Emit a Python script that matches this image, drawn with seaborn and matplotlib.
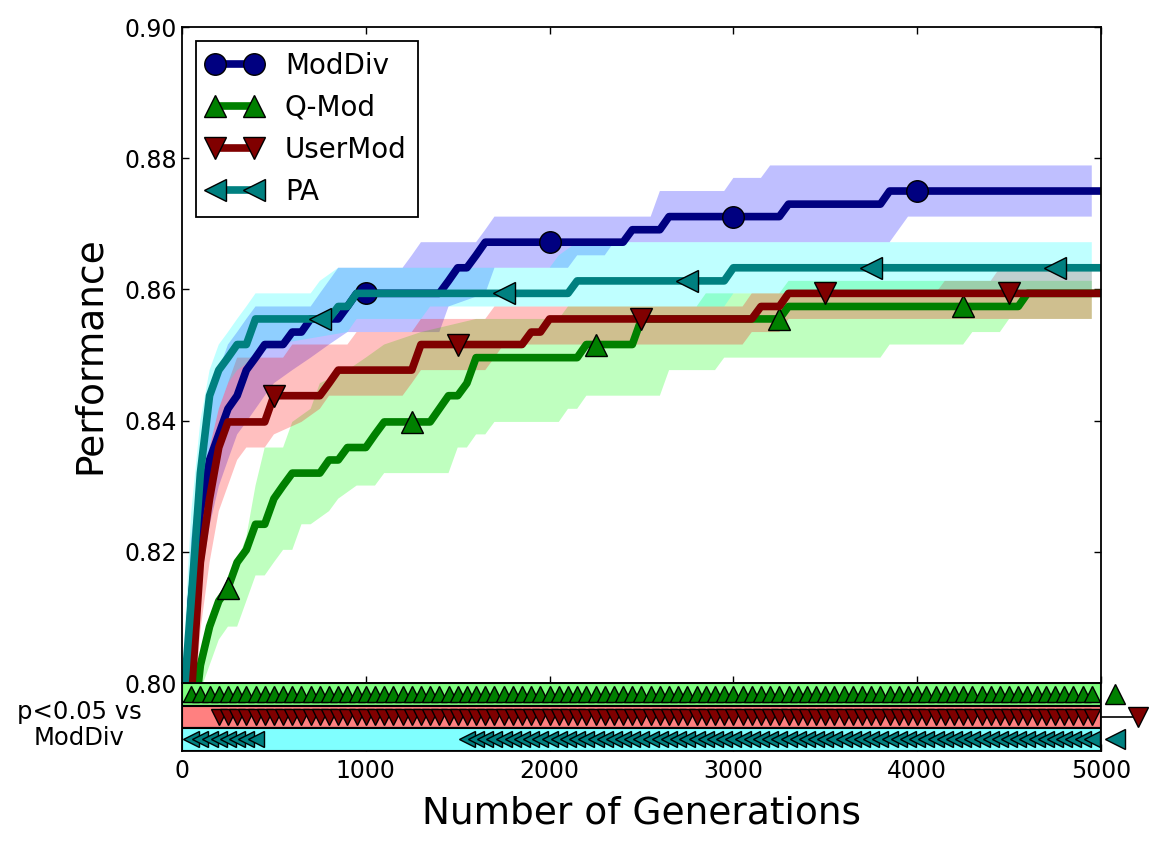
import numpy as np
import matplotlib
matplotlib.use("Agg")
import matplotlib.pyplot as plt
from matplotlib.lines import Line2D
import seaborn as sns

# (generation, performance) vertices of each mean curve
moddiv = [(0, 0.777), (50, 0.8125), (100, 0.8262), (150, 0.8340), (200, 0.8379), (250, 0.8418),
          (300, 0.8438), (350, 0.8477), (400, 0.8496), (450, 0.8516), (550, 0.8516), (600, 0.8535),
          (650, 0.8535), (700, 0.8555), (850, 0.8555), (900, 0.8574), (950, 0.8594), (1000, 0.8594),
          (1400, 0.8594), (1450, 0.8613), (1500, 0.8633), (1550, 0.8633), (1600, 0.8652), (1650, 0.8672),
          (2000, 0.8672), (2400, 0.8672), (2450, 0.8691), (2600, 0.8691), (2650, 0.8711), (3000, 0.8711),
          (3250, 0.8711), (3300, 0.8730), (3800, 0.8730), (3850, 0.8750), (4000, 0.8750), (5000, 0.8750)]
qmod = [(0, 0.775), (50, 0.790), (100, 0.8027), (150, 0.8086), (200, 0.8125), (250, 0.8145),
        (300, 0.8184), (350, 0.8203), (400, 0.8242), (450, 0.8242), (500, 0.8281), (550, 0.8301),
        (600, 0.8320), (750, 0.8320), (800, 0.8340), (850, 0.8340), (900, 0.8359), (1000, 0.8359),
        (1050, 0.8379), (1100, 0.8398), (1250, 0.8398), (1350, 0.8398), (1400, 0.8418), (1450, 0.8438),
        (1500, 0.8438), (1550, 0.8457), (1600, 0.8496), (2150, 0.8496), (2200, 0.8516), (2250, 0.8516),
        (2450, 0.8516), (2500, 0.8555), (3250, 0.8555), (3300, 0.8574), (4250, 0.8574), (4550, 0.8574),
        (4600, 0.8594), (5000, 0.8594)]
usermod = [(0, 0.780), (50, 0.798), (100, 0.8184), (150, 0.8281), (200, 0.8359), (250, 0.8398),
           (450, 0.8398), (500, 0.8438), (750, 0.8438), (800, 0.8457), (850, 0.8477), (1250, 0.8477),
           (1300, 0.8516), (1500, 0.8516), (1850, 0.8516), (1900, 0.8535), (1950, 0.8535), (2000, 0.8555),
           (2500, 0.8555), (3100, 0.8555), (3150, 0.8574), (3250, 0.8574), (3300, 0.8594), (3500, 0.8594),
           (4500, 0.8594), (5000, 0.8594)]
pa = [(0, 0.794), (50, 0.8125), (100, 0.8320), (150, 0.8438), (200, 0.8477), (250, 0.8496),
      (300, 0.8516), (350, 0.8516), (400, 0.8555), (750, 0.8555), (800, 0.8555), (850, 0.8574),
      (900, 0.8574), (950, 0.8594), (1750, 0.8594), (2100, 0.8594), (2150, 0.8613), (2750, 0.8613),
      (2950, 0.8613), (3000, 0.8633), (3750, 0.8633), (4750, 0.8633), (5000, 0.8633)]

# upper / lower edges of the shaded bands
moddiv_hi = [(0, 0.79), (50, 0.822), (100, 0.834), (150, 0.842), (200, 0.8477), (250, 0.8516),
             (300, 0.8535), (350, 0.8555), (400, 0.8574), (700, 0.8574), (750, 0.8594), (850, 0.8633),
             (1200, 0.8633), (1250, 0.8652), (1300, 0.8672), (1600, 0.8672), (1650, 0.8691),
             (1700, 0.8711), (2550, 0.8711), (2600, 0.8750), (2950, 0.8750), (3000, 0.8770),
             (3150, 0.8770), (3200, 0.8789), (4950, 0.8789)]
moddiv_lo = [(0, 0.76), (50, 0.800), (100, 0.815), (150, 0.824), (200, 0.830), (250, 0.834),
             (300, 0.8379), (350, 0.8398), (400, 0.8418), (450, 0.8438), (500, 0.8457), (600, 0.8477),
             (700, 0.8496), (800, 0.8516), (900, 0.8535), (1400, 0.8535), (1450, 0.8574), (1650, 0.8594),
             (1700, 0.8633), (2100, 0.8633), (2150, 0.8652), (2300, 0.8652), (2350, 0.8672),
             (3850, 0.8672), (3950, 0.8711), (4950, 0.8711)]
qmod_hi = [(0, 0.775), (50, 0.790), (100, 0.802), (150, 0.8066), (200, 0.8125), (250, 0.8145),
           (300, 0.8184), (350, 0.8223), (400, 0.8301), (450, 0.8359), (550, 0.8359), (600, 0.8398),
           (700, 0.8418), (750, 0.8457), (900, 0.8477), (1000, 0.8496), (1100, 0.8516), (1300, 0.8535),
           (1600, 0.8555), (2050, 0.8555), (2100, 0.8574), (2800, 0.8574), (2850, 0.8594),
           (3250, 0.8594), (3300, 0.8613), (4950, 0.8613)]
qmod_lo = [(0, 0.76), (50, 0.78), (100, 0.7988), (150, 0.8027), (200, 0.8066), (250, 0.8086),
           (300, 0.8086), (350, 0.8125), (400, 0.8164), (450, 0.8164), (500, 0.8184), (550, 0.8203),
           (600, 0.8203), (650, 0.8242), (700, 0.8242), (800, 0.8262), (850, 0.8281), (950, 0.8301),
           (1050, 0.8301), (1100, 0.8320), (1450, 0.8320), (1500, 0.8359), (1550, 0.8359),
           (1600, 0.8379), (1650, 0.8379), (1700, 0.8398), (2050, 0.8398), (2100, 0.8418),
           (2150, 0.8418), (2200, 0.8438), (2600, 0.8438), (2650, 0.8477), (2900, 0.8477),
           (2950, 0.8496), (3800, 0.8496), (3850, 0.8516), (4250, 0.8516), (4300, 0.8535),
           (4450, 0.8535), (4500, 0.8555), (4950, 0.8555)]
usermod_hi = [(0, 0.79), (50, 0.812), (100, 0.828), (150, 0.8359), (200, 0.8418), (250, 0.8457),
              (300, 0.8496), (550, 0.8496), (600, 0.8516), (900, 0.8516), (950, 0.8535), (1250, 0.8535),
              (1300, 0.8555), (1650, 0.8555), (1700, 0.8574), (3050, 0.8574), (3100, 0.8594),
              (4100, 0.8594), (4150, 0.8613), (4400, 0.8613), (4450, 0.8633), (4950, 0.8633)]
usermod_lo = [(0, 0.76), (50, 0.790), (100, 0.808), (150, 0.8184), (200, 0.8262), (250, 0.8301),
              (300, 0.8340), (350, 0.8359), (450, 0.8359), (500, 0.8379), (650, 0.8398), (750, 0.8418),
              (800, 0.8438), (1200, 0.8438), (1250, 0.8457), (1300, 0.8477), (1650, 0.8477),
              (1700, 0.8496), (1750, 0.8516), (3050, 0.8516), (3100, 0.8535), (3250, 0.8535),
              (3300, 0.8555), (4950, 0.8555)]
pa_hi = [(0, 0.80), (50, 0.826), (100, 0.840), (150, 0.8477), (200, 0.8516), (250, 0.8535),
         (300, 0.8555), (350, 0.8574), (400, 0.8594), (700, 0.8594), (750, 0.8613), (850, 0.8633),
         (2000, 0.8633), (2050, 0.8652), (2150, 0.8672), (4950, 0.8672)]
pa_lo = [(0, 0.78), (50, 0.800), (100, 0.822), (150, 0.836), (200, 0.8418), (250, 0.8457),
         (300, 0.8477), (400, 0.8496), (500, 0.8516), (900, 0.8535), (950, 0.8555), (1300, 0.8555),
         (1350, 0.8574), (2950, 0.8574), (3000, 0.8594), (4950, 0.8594)]

# generations carrying a marker on each curve
moddiv_marks = [1000, 2000, 3000, 4000]
qmod_marks = [250, 1250, 2250, 3250, 4250]
usermod_marks = [500, 1500, 2500, 3500, 4500]
pa_marks = [750, 1750, 2750, 3750, 4750]

# runs of generations (every 50) where p<0.05 vs ModDiv
qmod_sig = [(50, 4950)]
usermod_sig = [(200, 4950)]
pa_sig = [(50, 400), (1550, 4950)]

labels = ["ModDiv", "Q-Mod", "UserMod", "PA"]
line_colors = ["#000080", "#008000", "#800000", "#008080"]
band_colors = ["blue", "lime", "red", "cyan"]
markers = ["o", "^", "v", "<"]

sns.set_style("ticks")
plt.rcParams["font.family"] = ["DejaVu Sans"]
for key in ["text.color", "axes.labelcolor", "xtick.color", "ytick.color", "axes.edgecolor"]:
    plt.rcParams[key] = "black"
plt.rcParams["axes.linewidth"] = 1.3

fig = plt.figure(figsize=(11.49, 8.47), dpi=100)
ax = fig.add_axes([0.1584, 0.1936, 0.7998, 0.7745])
ax2 = fig.add_axes([0.1584, 0.1139, 0.7998, 0.0797], sharex=ax)

series = [moddiv, qmod, usermod, pa]
bands = [(moddiv_hi, moddiv_lo), (qmod_hi, qmod_lo), (usermod_hi, usermod_lo), (pa_hi, pa_lo)]
marks = [moddiv_marks, qmod_marks, usermod_marks, pa_marks]

for (hi, lo), c in zip(bands, band_colors):
    hx, hy = zip(*hi)
    lx, ly = zip(*lo)
    ax.fill(list(hx) + list(lx[::-1]), list(hy) + list(ly[::-1]), color=c, alpha=0.25, lw=0)

for data, c, m, mk, lab in zip(series, line_colors, markers, marks, labels):
    xs, ys = zip(*data)
    idx = [list(xs).index(g) for g in mk]
    sns.lineplot(x=list(xs), y=list(ys), ax=ax, color=c, lw=5.5, marker=m, ms=15.5,
                 mec="k", mew=1, markevery=idx, errorbar=None, sort=False)

ax.set_xlim(0, 5000)
ax.set_ylim(0.80, 0.90)
yt = np.arange(0.80, 0.901, 0.02)
ax.set_yticks(yt)
ax.set_yticklabels([f"{v:.2f}" for v in yt])
ax.tick_params(direction="in", top=True, right=True, labelbottom=False, labelsize=17,
               length=5, width=1)
ax.set_ylabel("Performance", fontsize=27, labelpad=12)

handles = [Line2D([], [], color=c, lw=5.5, marker=m, ms=15.5, mec="k", mew=1)
           for c, m in zip(line_colors, markers)]
leg = ax.legend(handles, labels, loc="upper left", numpoints=2, fontsize=20, fancybox=False,
                edgecolor="k", framealpha=1, handlelength=2)
leg.get_frame().set_linewidth(1.3)

# significance strip
row_y = [2.5, 1.5, 0.5]
row_fill = ["#80ff80", "#ff8080", "#80ffff"]
ax2.axhspan(2, 3, facecolor=row_fill[0], edgecolor="k", lw=1.5)
ax2.axhline(2.17, color="k", lw=1.5)
ax2.axhspan(1, 2, facecolor=row_fill[1], edgecolor="k", lw=1.5)
ax2.axhspan(0, 1, facecolor=row_fill[2], edgecolor="k", lw=1.5)

for runs, y, c, m in zip([qmod_sig, usermod_sig, pa_sig], row_y, line_colors[1:], markers[1:]):
    gens = np.concatenate([np.arange(a, b + 1, 50) for a, b in runs])
    ax2.plot(gens, np.full(len(gens), y), ls="none", marker=m, ms=11.5, mfc=c, mec="k", mew=1)

ax2.plot([5000, 5200], [1.5, 1.5], color="k", lw=1.2, clip_on=False)
ax2.plot([5075], [2.5], marker="^", ms=15, mfc=line_colors[1], mec="k", mew=1, clip_on=False)
ax2.plot([5200], [1.5], marker="v", ms=15, mfc=line_colors[2], mec="k", mew=1, clip_on=False)
ax2.plot([5075], [0.5], marker="<", ms=15, mfc=line_colors[3], mec="k", mew=1, clip_on=False)

ax2.set_ylim(0, 3)
ax2.set_yticks([])
ax2.set_xticks(np.arange(0, 5001, 1000))
ax2.tick_params(direction="in", labelsize=17, length=5, width=1, pad=6)
ax2.set_xlabel("Number of Generations", fontsize=27, labelpad=9)

fig.text(79 / 1149, 1 - 725 / 847, "p<0.05 vs\nModDiv", ha="center", va="center",
         fontsize=17.5, linespacing=1.1)

fig.savefig("out.png", dpi=100)
